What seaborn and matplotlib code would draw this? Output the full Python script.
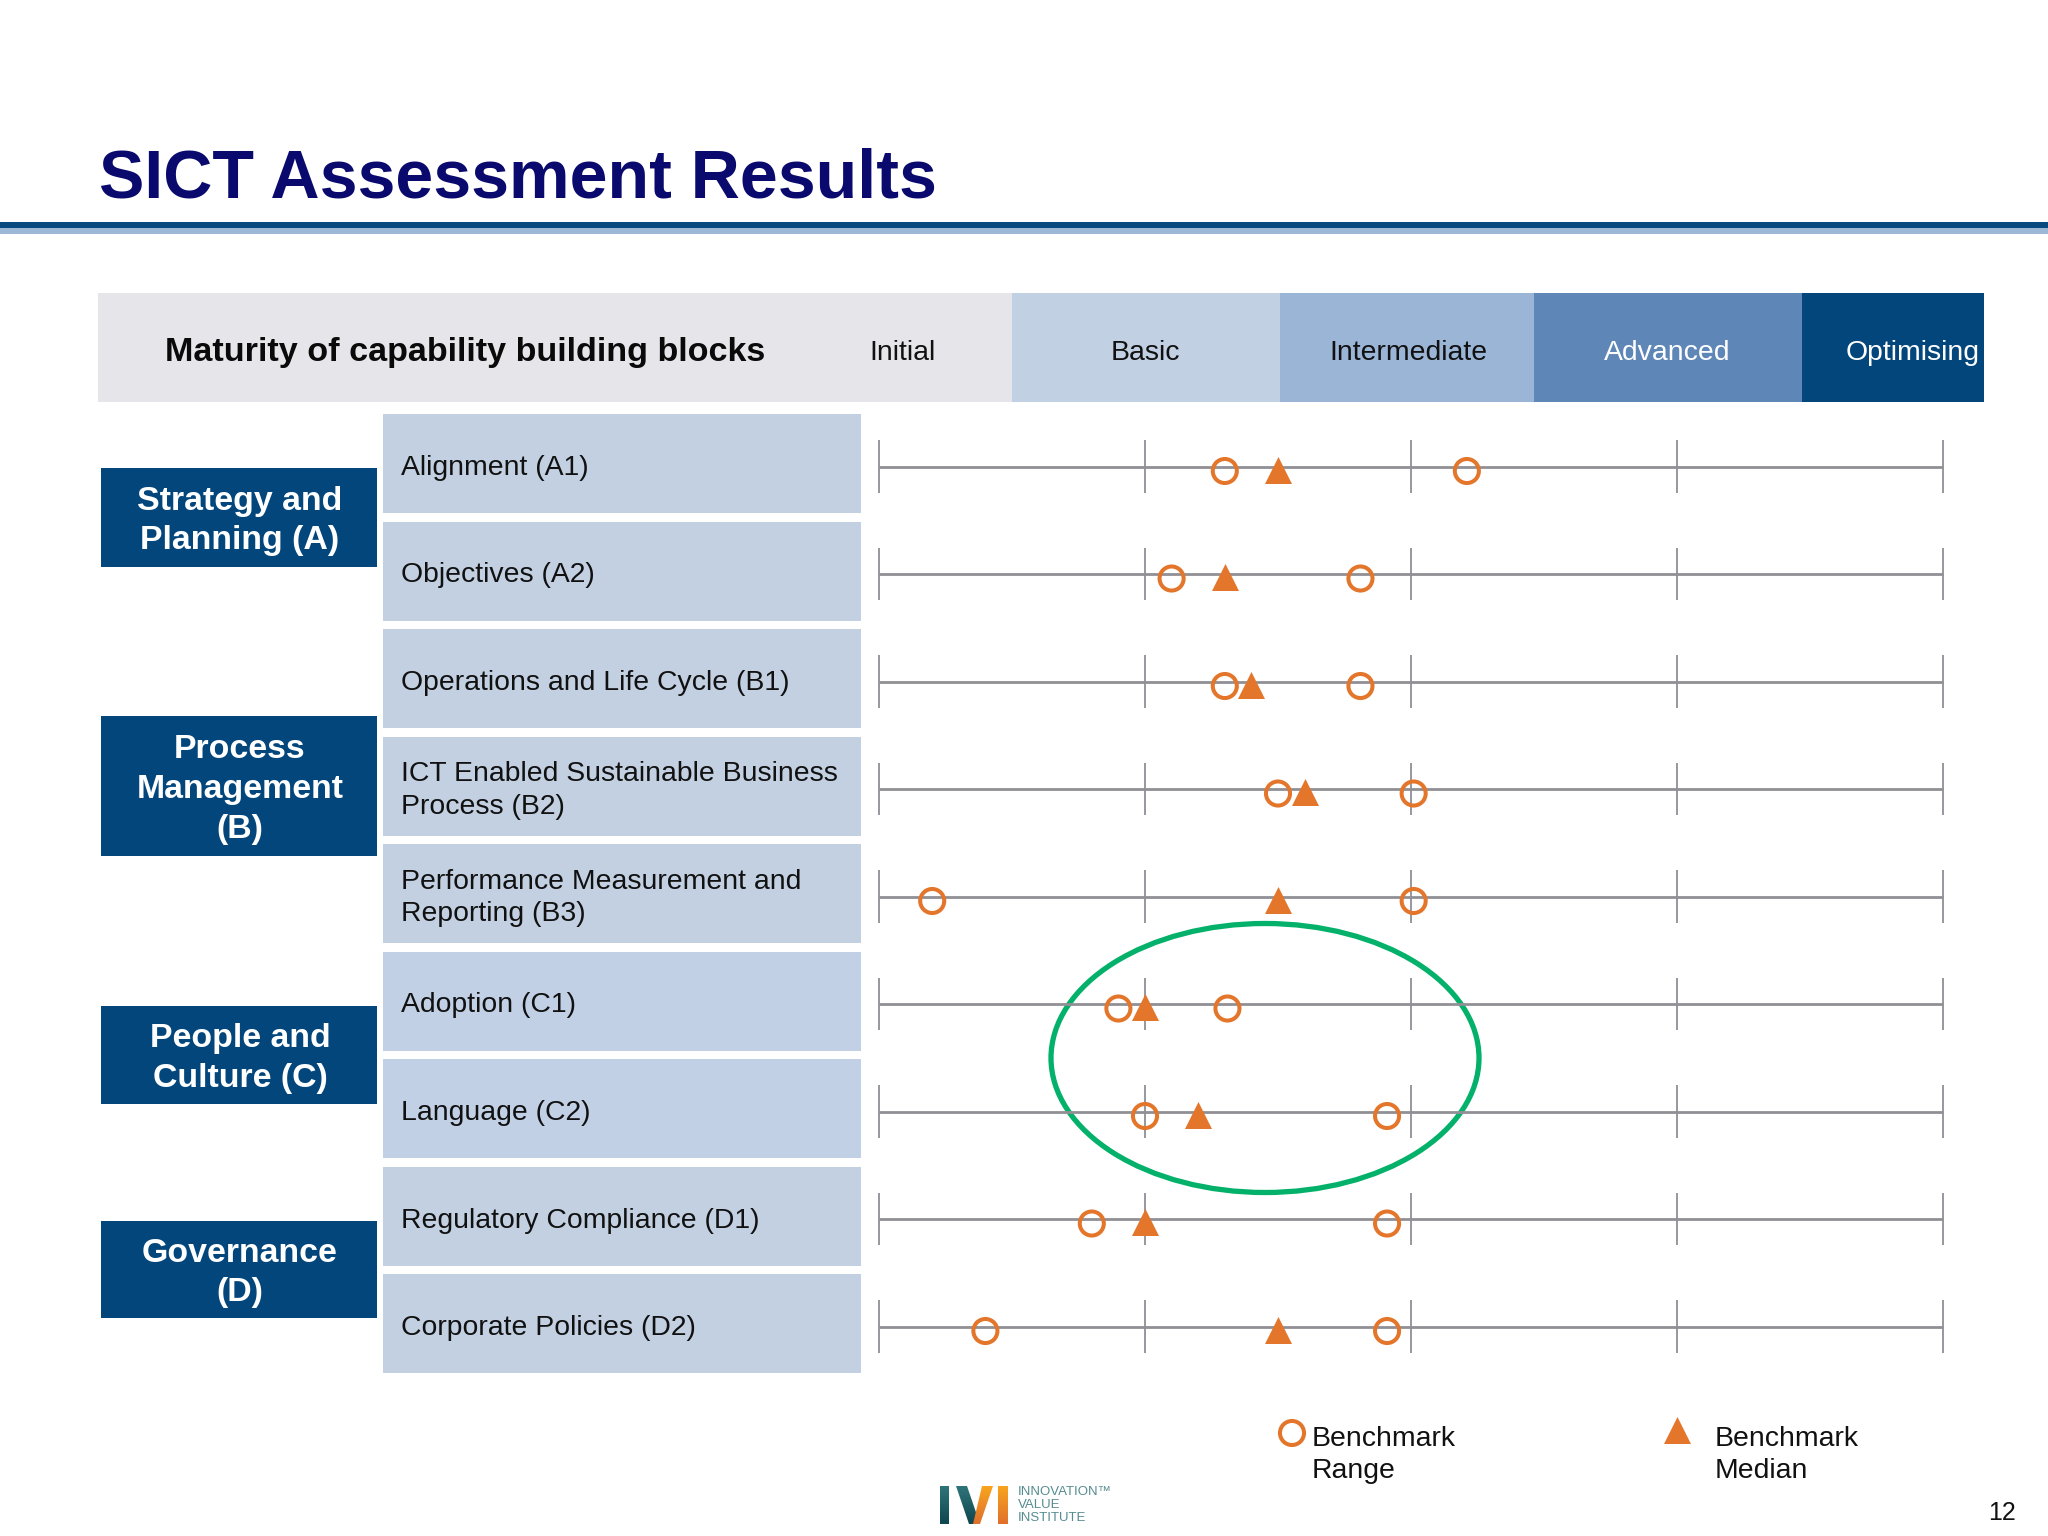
#!/usr/bin/env python
import numpy as np
import pandas as pd
import matplotlib.pyplot as plt
from matplotlib.colors import LinearSegmentedColormap
from matplotlib.patches import Ellipse, Polygon, Rectangle
import seaborn as sns

# data, x is the maturity scale 0 (Initial) .. 4 (Optimising)
rows = ["Alignment (A1)", "Objectives (A2)", "Operations and Life Cycle (B1)",
        "ICT Enabled Sustainable Business\nProcess (B2)",
        "Performance Measurement and\nReporting (B3)", "Adoption (C1)", "Language (C2)",
        "Regulatory Compliance (D1)", "Corporate Policies (D2)"]
range_low = [1.30, 1.10, 1.30, 1.50, 0.20, 0.90, 1.00, 0.80, 0.40]
median = [1.50, 1.30, 1.40, 1.60, 1.50, 1.00, 1.20, 1.00, 1.50]
range_high = [2.21, 1.81, 1.81, 2.01, 2.01, 1.31, 1.91, 1.91, 1.91]
groups = ["Strategy and\nPlanning (A)", "Process\nManagement\n(B)", "People and\nCulture (C)",
          "Governance\n(D)"]
levels = ["Initial", "Basic", "Intermediate", "Advanced", "Optimising"]
scale_ticks = [0, 1, 2, 3, 4]

# layout in pixels
W, H = 2048, 1536
ROW_TOP = 466.5
ROW_STEP = 107.5
SCALE_L, SCALE_R = 879, 1943
band_edges = [98, 1012, 1280, 1534, 1802, 1984]
band_colors = ["#e6e6ea", "#c1d0e2", "#9bb5d6", "#5e87b8", "#03467c"]
level_text_x = [902, 1145, 1408, 1667, 1913]
level_text_colors = ["#111111", "#111111", "#111111", "#ffffff", "#ffffff"]
group_spans = [(468, 567), (716, 856), (1006, 1104), (1221, 1318)]
NAVY = "#0a0a6e"
BLUE = "#03467c"
ORANGE = "#e3762b"
GREY = "#8f8f95"

sns.set_style("white")
plt.rcParams['font.family'] = ['Liberation Sans', 'DejaVu Sans']

fig = plt.figure(figsize=(W / 100, H / 100), dpi=100)

# page furniture, in pixel coordinates
bg = fig.add_axes([0, 0, 1, 1])
bg.set_xlim(0, W)
bg.set_ylim(H, 0)
bg.axis("off")


def grad_poly(pts, top, bottom):
    # logo strokes fade from top to bottom
    xs, ys = zip(*pts)
    cmap = LinearSegmentedColormap.from_list("g", [top, bottom])
    im = bg.imshow(np.linspace(0, 1, 64).reshape(-1, 1), cmap=cmap, aspect="auto",
                   extent=(min(xs), max(xs), max(ys), min(ys)))
    im.set_clip_path(Polygon(pts, transform=bg.transData))


bg.text(99, 198, "SICT Assessment Results", fontsize=49.1, fontweight="bold", color=NAVY,
        ha="left", va="baseline")
bg.add_patch(Rectangle((0, 222), W, 6, color="#0a4a80", lw=0))
bg.add_patch(Rectangle((0, 228), W, 6, color="#9db7d6", lw=0))

for i, col in enumerate(band_colors):
    bg.add_patch(Rectangle((band_edges[i], 293), band_edges[i + 1] - band_edges[i], 109,
                           color=col, lw=0))
    bg.text(level_text_x[i], 352.5, levels[i], fontsize=20.4, color=level_text_colors[i],
            ha="center", va="center")
bg.text(165, 352.5, "Maturity of capability building blocks", fontsize=24.55, fontweight="bold",
        color="#0a0a0a", ha="left", va="center")

for i, label in enumerate(rows):
    top = 414 + i * ROW_STEP
    col = "#c2d0e6" if label[-3] == "C" else "#c2d0e2"
    bg.add_patch(Rectangle((383, top), 478, 99, color=col, lw=0))
    bg.text(401, top + 54, label, fontsize=20.4, color="#111111", ha="left", va="center",
            linespacing=1.32)

for (y0, y1), label in zip(group_spans, groups):
    bg.add_patch(Rectangle((101, y0), 276, y1 - y0, color=BLUE, lw=0))
    bg.text(240, (y0 + y1) / 2 + 3.5, label, fontsize=24.4, fontweight="bold", color="white",
            ha="center", va="center", linespacing=1.37)

bg.add_patch(Ellipse((1265, 1058), 428, 269, fill=False, ec="#03b16a", lw=3.8))

# legend
bg.scatter([1292], [1433], s=300, marker="o", facecolors="none", edgecolors=ORANGE, linewidths=2.9)
bg.scatter([1677], [1430], s=378, marker="^", color=ORANGE, linewidths=0)
bg.text(1312, 1455, "Benchmark\nRange", fontsize=20.4, color="#111111", ha="left", va="center",
        linespacing=1.32)
bg.text(1715, 1455, "Benchmark\nMedian", fontsize=20.4, color="#111111", ha="left", va="center",
        linespacing=1.32)

# logo and page number
grad_poly([(940, 1486), (949, 1486), (949, 1524), (940, 1524)], "#2f7479", "#0f4650")
grad_poly([(956, 1486), (967, 1486), (980, 1524), (969, 1524)], "#2f7479", "#0f4650")
grad_poly([(973, 1524), (980, 1524), (993, 1486), (982, 1486)], "#f8a41e", "#e0702c")
grad_poly([(998, 1486), (1008, 1486), (1008, 1524), (998, 1524)], "#f8a41e", "#e0702c")
for y, word in zip([1492, 1505, 1518], ["INNOVATION™", "VALUE", "INSTITUTE"]):
    bg.text(1018, y, word, fontsize=9.5, color="#568c90", ha="left", va="center")
bg.text(2016, 1513, "12", fontsize=18, color="#111111", ha="right", va="center")
bg.set_xlim(0, W)
bg.set_ylim(H, 0)

# the benchmark rows, on the maturity scale
ax = fig.add_axes([SCALE_L / W, 1 - (ROW_TOP + 8 * ROW_STEP) / H,
                   (SCALE_R - SCALE_L) / W, 8 * ROW_STEP / H])
ax.patch.set_alpha(0)
ax.set_xlim(0, 4)
ax.set_ylim(8, 0)
ax.axis("off")

row_ids = list(range(len(rows)))
ax.hlines(row_ids, 0, 4, color=GREY, lw=2.0, clip_on=False, zorder=1)
for t in scale_ticks:
    ax.vlines([t] * len(rows), [r - 0.245 for r in row_ids], [r + 0.245 for r in row_ids],
              color=GREY, lw=1.3, clip_on=False, zorder=1)

df = pd.DataFrame({"range_y": [r + 0.042 for r in row_ids], "median_y": [r + 0.032 for r in row_ids],
                   "low": range_low, "median": median, "high": range_high})
for col in ["low", "high"]:
    sns.scatterplot(data=df, x=col, y="range_y", ax=ax, marker="o", s=300, facecolors="none",
                    edgecolor=ORANGE, linewidth=2.9, legend=False, clip_on=False, zorder=3)
sns.scatterplot(data=df, x="median", y="median_y", ax=ax, marker="^", s=378, color=ORANGE,
                linewidth=0, legend=False, clip_on=False, zorder=3)
ax.set_xlabel("")
ax.set_ylabel("")

fig.savefig("out.png", dpi=100)
